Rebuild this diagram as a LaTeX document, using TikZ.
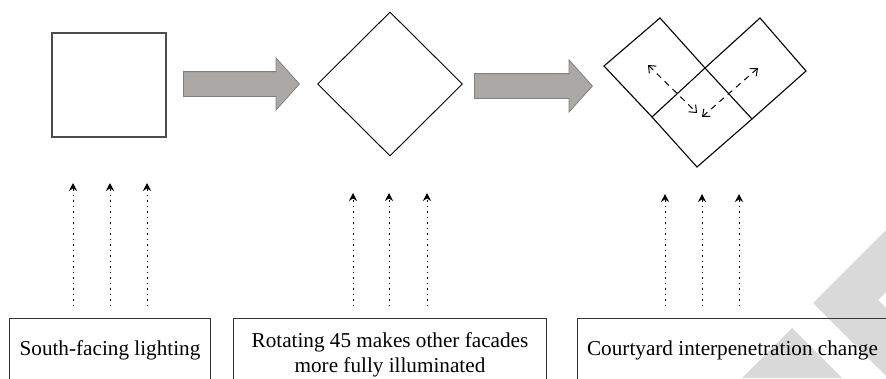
\documentclass[tikz,border=0pt]{standalone}
\usepackage{fontspec}
\setmainfont{Liberation Serif}
\usetikzlibrary{shapes.geometric,shapes.arrows,arrows.meta,positioning}
\definecolor{arrowgray}{RGB}{171,168,165}
\definecolor{arrowedge}{RGB}{130,128,126}
\definecolor{markgray}{RGB}{217,217,217}

\begin{document}
\begin{tikzpicture}[
    x=1pt, y=-1pt,
    plan/.style={draw=black, line width=1.1pt, inner sep=0pt},
    turn/.style={single arrow, draw=arrowedge, fill=arrowgray, line width=0.8pt, inner sep=12pt,
      minimum width=51pt, single arrow head extend=13.5pt, single arrow tip angle=96, anchor=tail},
    caption/.style={rectangle, draw=black!80, line width=1pt, inner xsep=0pt, inner ysep=0pt,
      align=center, anchor=north west, text depth=60pt, font=\fontsize{21.2}{25}\selectfont},
    ray/.style={draw, dash pattern=on 1.5pt off 4pt, line width=1pt, -{Stealth[length=8pt,width=8pt]}},
    flow/.style={draw, dash pattern=on 6pt off 5pt, line width=1pt,
      {Straight Barb[length=6pt,width=10pt]}-{Straight Barb[length=6pt,width=10pt]}}
  ]
    \useasboundingbox (0,0) rectangle (886,378);
    \clip (0,0) rectangle (886,378);

    % watermark
    \fill [markgray] (813,303) -- (886,230) -- (886,292) -- (878,300) -- (886,308) -- (886,376) -- cycle;
    \fill [markgray] (792,328) -- (742,378) -- (842,378) -- cycle;

    % plans
    \node [plan, draw=black!70, line width=1.5pt, minimum width=114pt, minimum height=104pt] (southplan) at (109,85) {};
    \node [plan, diamond, line width=0.9pt, minimum width=145pt, minimum height=144pt] (turnplan) at (390,84) {};
    \node [turn, minimum height=116pt] (stepone) at (183,84) {};
    \node [turn, minimum height=118pt] (steptwo) at (474,86) {};

    % courtyard plan
    \coordinate (B) at (697,167);
    \coordinate (L) at (652,117);
    \coordinate (R) at (752,119);
    \coordinate (C) at (705,68);
    \coordinate (FL) at (604,66);
    \coordinate (TL) at (660,18);
    \coordinate (TR) at (760,18);
    \coordinate (FR) at (806,71);
    \draw [line width=1.1pt, line join=miter] (B) -- (L) -- (FL) -- (TL) -- (C) -- (TR) -- (FR) -- (R) -- cycle;
    \draw [line width=1.1pt] (L) -- (C) -- (R);
    \coordinate (f1a) at (648,65);
    \coordinate (f1b) at (697,113);
    \coordinate (f2a) at (758,68);
    \coordinate (f2b) at (702,117);
    \path [flow] (f1a) -- (f1b);
    \path [flow] (f2a) -- (f2b);

    % sunlight
    \foreach \x/\top in {73/183, 110/183, 147/183, 353/193, 389/193, 427/193, 665/194, 702/194, 739/194} {
      \coordinate (foot) at (\x,306);
      \coordinate (tip) at (\x,\top);
      \path [ray] (foot) -- (tip);
    }

    % captions
    \node [caption, minimum width=201pt, text height=37pt] (lightbox) at (9,318) {South-facing lighting};
    \node [caption, minimum width=313pt, text height=54pt] (turnbox) at (233,318) {Rotating 45 makes other facades\\more fully illuminated};
    \node [caption, minimum width=310pt, text height=37pt] (yardbox) at (577,318) {Courtyard interpenetration change};
\end{tikzpicture}
\end{document}
